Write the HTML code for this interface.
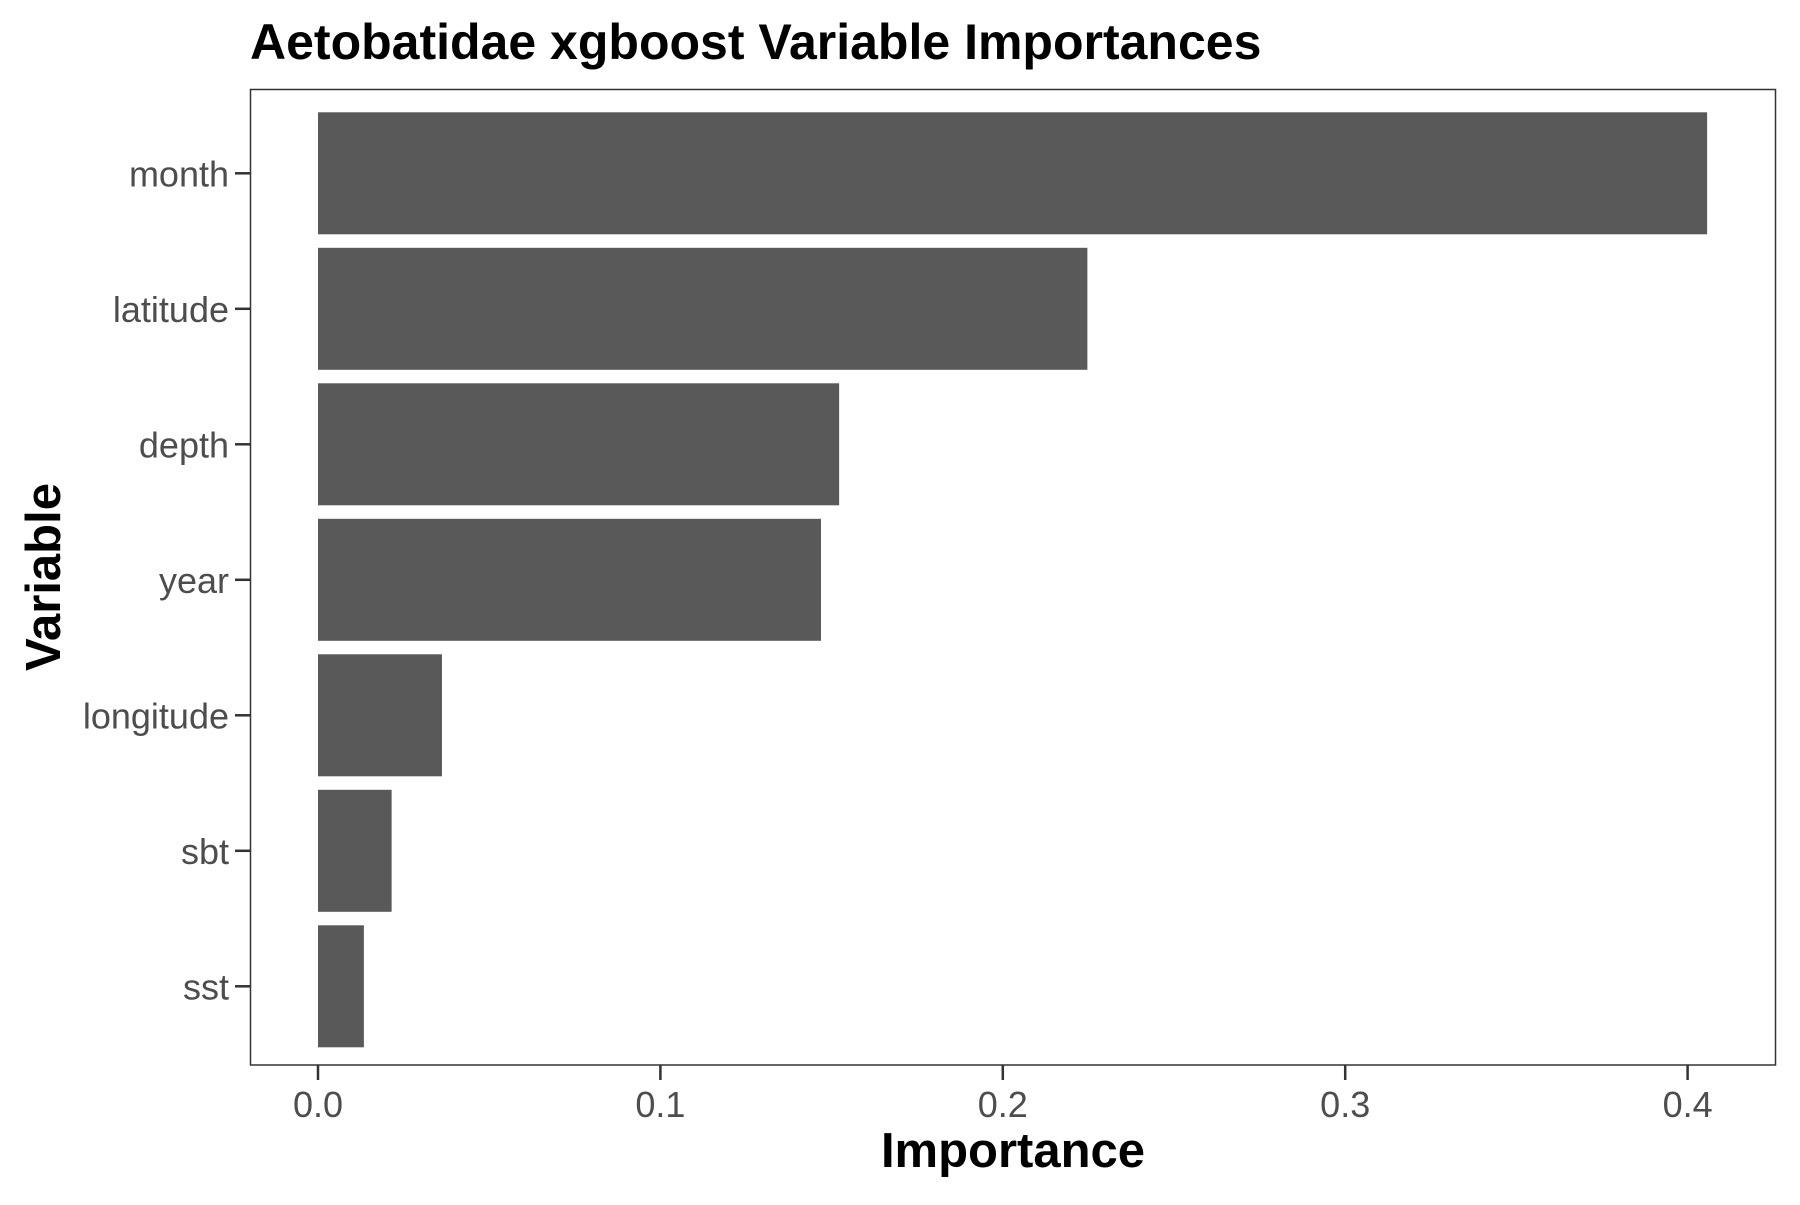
<!DOCTYPE html>
<html><head><meta charset="utf-8"><style>
body{margin:0;background:#fff;}
svg text{font-family:"Liberation Sans",Arial,sans-serif;}
</style></head><body>
<svg id="chart" width="1800" height="1200" xmlns="http://www.w3.org/2000/svg">
<text x="250" y="59" font-size="50" font-weight="bold" fill="#000">Aetobatidae xgboost Variable Importances</text>
<g id="bars"></g>
<rect x="250.5" y="89.5" width="1525" height="975.5" fill="none" stroke="#333" stroke-width="1.5"/>
<g id="axes"></g>
<text x="1013" y="1167" font-size="49" font-weight="bold" text-anchor="middle">Importance</text>
<text transform="translate(60,577) rotate(-90)" font-size="49" font-weight="bold" text-anchor="middle">Variable</text>
</svg>
<script>
const categories = ["month","latitude","depth","year","longitude","sbt","sst"];
const values = [0.4057,0.2247,0.1522,0.1469,0.0362,0.0215,0.0134];
const xTicks = [0,0.1,0.2,0.3,0.4];
const xTickLabels = ["0.0","0.1","0.2","0.3","0.4"];
const NS="http://www.w3.org/2000/svg";
const x0=318, pxPer=3424;
function xScale(v){return x0+v*pxPer;}
const top0=173.3, step=135.5;
function yScale(i){return top0+i*step;}
const bars=document.getElementById('bars'), axes=document.getElementById('axes');
function mk(tag,attrs,parent){const e=document.createElementNS(NS,tag);for(const k in attrs)e.setAttribute(k,attrs[k]);parent.appendChild(e);return e;}
categories.forEach((c,i)=>{
  const r=mk('rect',{x:xScale(0),y:yScale(i)-61,width:xScale(values[i])-xScale(0),height:122,fill:'#595959'},bars);
  
  
  const t=mk('line',{x1:235,x2:250,y1:yScale(i),y2:yScale(i),stroke:'#333','stroke-width':2.5},axes);
  
  
  const l=mk('text',{x:229,y:yScale(i)+13,'font-size':36,fill:'#4d4d4d','text-anchor':'end'},axes);
  l.textContent=c;
  
  
});
xTicks.forEach((v,i)=>{
  const t=mk('line',{x1:xScale(v),x2:xScale(v),y1:1065,y2:1080,stroke:'#333','stroke-width':2.5},axes);
  
  
  const l=mk('text',{x:xScale(v),y:1117,'font-size':36,fill:'#4d4d4d','text-anchor':'middle'},axes);
  l.textContent=xTickLabels[i];
  
  
});
</script>
</body></html>
